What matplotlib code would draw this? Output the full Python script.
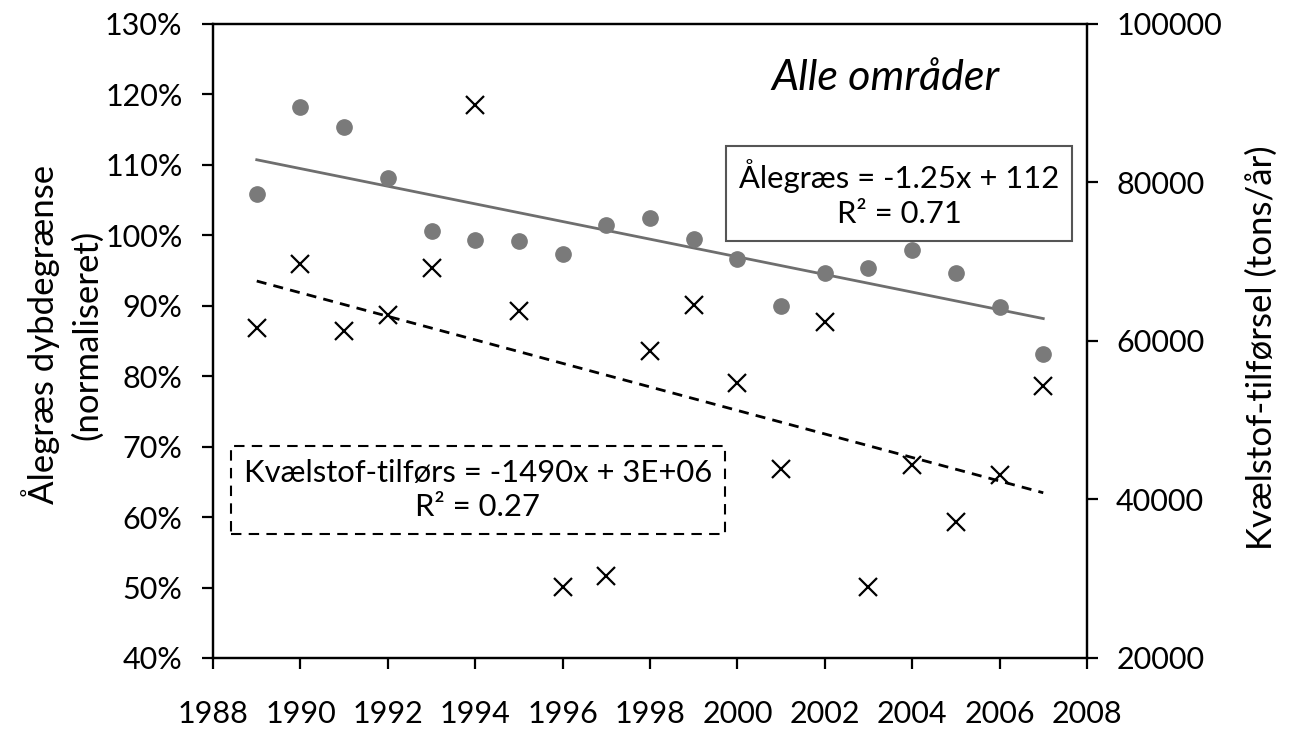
import numpy as np
import matplotlib
import matplotlib.pyplot as plt
from matplotlib.ticker import FuncFormatter

matplotlib.use("Agg")

years = np.arange(1989, 2008)
alegraes = [105.9, 118.2, 115.4, 108.1, 100.6, 99.3, 99.2, 97.3, 101.4, 102.5,
            99.5, 96.7, 89.9, 94.7, 95.4, 97.9, 94.7, 89.8, 83.1]
kvaelstof = [61600, 69700, 61300, 63300, 69200, 89800, 63800, 28900, 30300, 58700,
             64500, 54700, 43800, 62400, 29000, 44400, 37100, 43100, 54300]

left_ticks = np.arange(40, 131, 10)
right_ticks = np.arange(20000, 100001, 20000)
x_ticks = np.arange(1988, 2009, 2)

plt.rcParams["font.family"] = ["Lato", "DejaVu Sans"]

fig = plt.figure(figsize=(12.92, 7.31), dpi=100)
ax = fig.add_axes([0.1649, 0.0999, 0.6764, 0.8673])
ax2 = ax.twinx()

# seagrass depth limit (left axis)
ax.plot(years, alegraes, "o", color="#7a7a7a", markersize=11, zorder=3)
idx = np.arange(1, len(years) + 1)
a1, b1 = np.polyfit(idx, alegraes, 1)
ax.plot(years, a1 * idx + b1, "-", color="#6e6e6e", linewidth=2, zorder=2)

# nitrogen load (right axis)
ax2.plot(years, kvaelstof, "x", color="black", markersize=13, markeredgewidth=1.6)
a2, b2 = np.polyfit(years, kvaelstof, 1)
ax2.plot(years, a2 * years + b2, color="black", linewidth=2, dashes=(3.6, 2.6))

ax.set_xlim(1988, 2008)
ax.set_ylim(40, 130)
ax2.set_ylim(20000, 100000)
ax.set_xticks(x_ticks)
ax.set_yticks(left_ticks)
ax2.set_yticks(right_ticks)
ax.yaxis.set_major_formatter(FuncFormatter(lambda v, p: f"{v:.0f}%"))

for a in (ax, ax2):
    for s in a.spines.values():
        s.set_linewidth(1.6)
    a.tick_params(direction="out", length=8, width=1.6, labelsize=22)
ax.tick_params(axis="y", pad=14)
ax2.tick_params(axis="y", pad=13)
ax.tick_params(axis="x", pad=22)

ax.set_ylabel("Ålegræs dybdegrænse\n(normaliseret)", fontsize=25, linespacing=1.4)
ax.yaxis.set_label_coords(-0.126, 0.51)
ax2.set_ylabel("Kvælstof-tilførsel (tons/år)", fontsize=25)
ax2.yaxis.set_label_coords(1.181, 0.49)

ax.text(0.770, 0.915, "Alle områder", transform=ax.transAxes, fontsize=31,
        style="italic", ha="center", va="center")

ax.text(0.785, 0.732, "Ålegræs = -1.25x + 112\nR² = 0.71", transform=ax.transAxes,
        fontsize=22.3, ha="center", va="center", linespacing=1.3, zorder=4,
        bbox=dict(boxstyle="square,pad=0.42", fc="white", ec="#555555", lw=1.5))
ax.text(0.303, 0.265, "Kvælstof-tilførs = -1490x + 3E+06\nR² = 0.27",
        transform=ax.transAxes, fontsize=22.3, ha="center", va="center",
        linespacing=1.3, zorder=4,
        bbox=dict(boxstyle="square,pad=0.42", fc="white", ec="black", lw=1.5,
                  linestyle=(0, (5, 3.5))))

fig.savefig("out.png", dpi=100)
